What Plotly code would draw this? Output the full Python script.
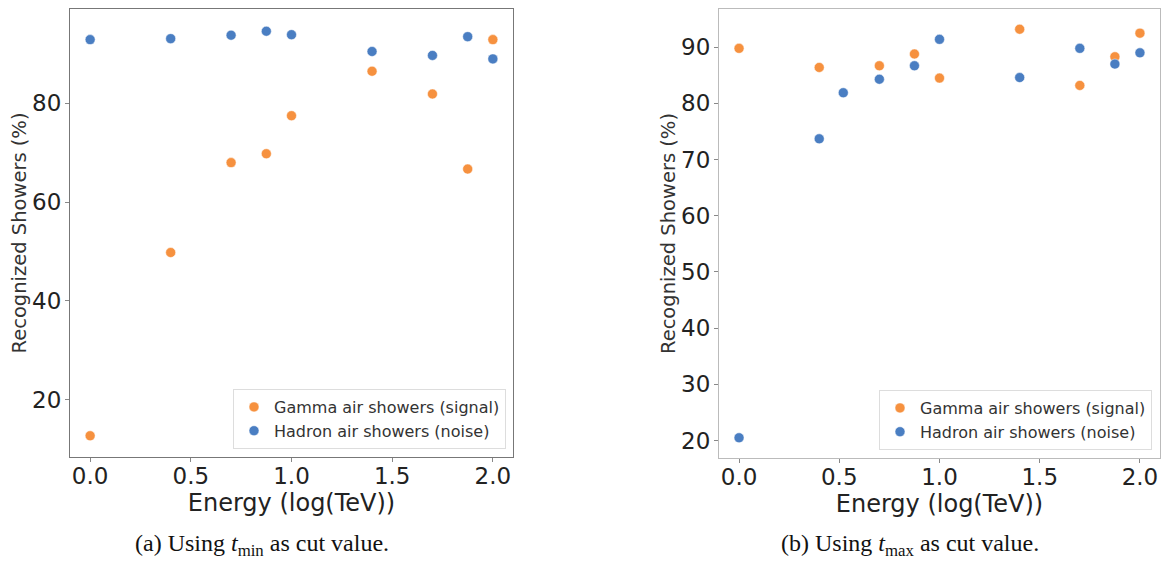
import plotly.graph_objects as go

# ---- data ----
energy = [0.0, 0.4, 0.7, 0.875, 1.0, 1.4, 1.7, 1.875, 2.0]
gamma_tmin = [12.7, 49.8, 68.0, 69.8, 77.5, 86.5, 81.9, 66.7, 92.9]
hadron_tmin = [92.9, 93.1, 93.8, 94.6, 93.9, 90.5, 89.7, 93.5, 89.0]

energy_gamma_tmax = [0.0, 0.4, 0.7, 0.875, 1.0, 1.4, 1.7, 1.875, 2.0]
gamma_tmax = [89.8, 86.4, 86.7, 88.8, 84.5, 93.2, 83.2, 88.3, 92.5]
energy_hadron_tmax = [0.0, 0.4, 0.52, 0.7, 0.875, 1.0, 1.4, 1.7, 1.875, 2.0]
hadron_tmax = [20.5, 73.7, 81.9, 84.3, 86.7, 91.4, 84.6, 89.8, 87.0, 89.0]

series_names = ["Gamma air showers (signal)", "Hadron air showers (noise)"]
x_ticks = [0.0, 0.5, 1.0, 1.5, 2.0]
y_ticks_a = [20, 40, 60, 80]
y_ticks_b = [20, 30, 40, 50, 60, 70, 80, 90]
captions = ["(a) Using <i>t</i><sub>min</sub> as cut value.",
            "(b) Using <i>t</i><sub>max</sub> as cut value."]
x_title = "Energy (log(TeV))"
y_title = "Recognized Showers (%)"

ORANGE = "#f6913f"
BLUE = "#4a7ec2"
FONT = "DejaVu Sans"

fig = go.Figure()

def mk(color):
    return dict(color=color, size=10, line=dict(color="white", width=0.5))

# left panel
fig.add_trace(go.Scatter(x=energy, y=gamma_tmin, mode="markers", name=series_names[0],
                         marker=mk(ORANGE), xaxis="x", yaxis="y", legend="legend"))
fig.add_trace(go.Scatter(x=energy, y=hadron_tmin, mode="markers", name=series_names[1],
                         marker=mk(BLUE), xaxis="x", yaxis="y", legend="legend"))
# right panel
fig.add_trace(go.Scatter(x=energy_gamma_tmax, y=gamma_tmax, mode="markers", name=series_names[0],
                         marker=mk(ORANGE), xaxis="x2", yaxis="y2", legend="legend2"))
fig.add_trace(go.Scatter(x=energy_hadron_tmax, y=hadron_tmax, mode="markers", name=series_names[1],
                         marker=mk(BLUE), xaxis="x2", yaxis="y2", legend="legend2"))

W, H = 1175, 561

def xax(domain, anchor, linecolor):
    return dict(domain=domain, anchor=anchor, range=[-0.1, 2.1], tickvals=x_ticks,
                tickformat=".1f", showgrid=False, zeroline=False, showline=True,
                mirror=True, linecolor=linecolor, linewidth=1.2, ticks="outside",
                ticklen=4, tickcolor="#888", ticklabelstandoff=-6,
                tickfont=dict(family=FONT, size=23, color="#222"),
                title=dict(text=x_title, font=dict(family=FONT, size=24, color="#222"), standoff=0))

def yax(domain, anchor, rng, ticks, linecolor):
    return dict(domain=domain, anchor=anchor, range=rng, tickvals=ticks,
                showgrid=False, zeroline=False, showline=True, mirror=True,
                linecolor=linecolor, linewidth=1.2, ticks="outside", ticklen=4,
                tickcolor="#888", ticklabelstandoff=-1,
                tickfont=dict(family=FONT, size=23, color="#222"),
                title=dict(text=y_title, font=dict(family=FONT, size=19.5, color="#333"), standoff=0))

fig.update_layout(
    width=W, height=H, margin=dict(l=0, r=0, t=0, b=0),
    paper_bgcolor="white", plot_bgcolor="white",
    font=dict(family=FONT, color="#222"),
    xaxis=xax([70 / W, 513 / W], "y", "#777"),
    yaxis=yax([1 - 457 / H, 1 - 9 / H], "x", [8.4, 99.1], y_ticks_a, "#777"),
    xaxis2=xax([719 / W, 1160 / W], "y2", "#bbb"),
    yaxis2=yax([1 - 458 / H, 1 - 9 / H], "x2", [16.9, 96.8], y_ticks_b, "#bbb"),
    legend=dict(x=506 / W, y=1 - 449 / H, xanchor="right", yanchor="bottom",
                bgcolor="white", bordercolor="#dddddd", borderwidth=1,
                font=dict(family=FONT, size=16, color="#333")),
    legend2=dict(x=1152 / W, y=1 - 450 / H, xanchor="right", yanchor="bottom",
                 bgcolor="white", bordercolor="#dddddd", borderwidth=1,
                 font=dict(family=FONT, size=16, color="#333")),
    showlegend=True,
)

for cx, txt in zip([262, 910], captions):
    fig.add_annotation(x=cx / W, y=1 - 545 / H, xref="paper", yref="paper",
                       text=txt, showarrow=False, xanchor="center", yanchor="middle",
                       font=dict(family="Liberation Serif", size=24, color="#111"))

fig.write_html("out.html")
